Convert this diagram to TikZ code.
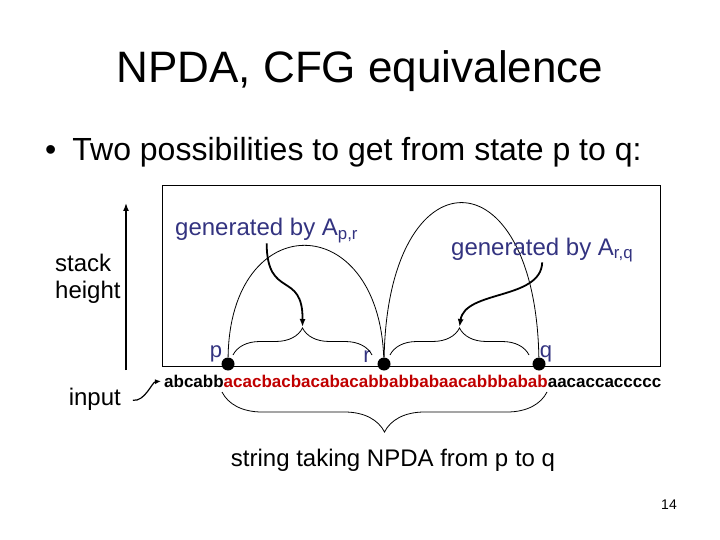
\documentclass[tikz,border=0pt]{standalone}
\usepackage{fontspec}
\setmainfont{Liberation Sans}
\usetikzlibrary{decorations.pathreplacing,arrows.meta}
\definecolor{stateblue}{RGB}{51,51,128}
\definecolor{pathred}{RGB}{192,0,0}
\newcommand{\ptsize}[1]{\fontsize{#1}{#1}\selectfont}
\begin{document}
\begin{tikzpicture}[x=1pt, y=-1pt, every node/.style={font=\ptsize{24}, inner sep=0pt},
  statedot/.style={circle, fill=black, inner sep=0pt, minimum size=13pt},
  statelbl/.style={text=stateblue, font=\ptsize{22}, anchor=base},
  loopline/.style={line width=0.8pt},
  brc/.style={decorate, decoration={brace, amplitude=#1}, line width=0.8pt},
  genarrow/.style={line width=1.8pt, -{Latex[length=8pt,width=6pt]}}]
\useasboundingbox (0,0) rectangle (720,540);
\node[font=\ptsize{44}, anchor=base] (title) at (360,83) {NPDA, CFG equivalence};
\node[font=\ptsize{32}, anchor=base west] (point) at (45,161) {\textbullet\hspace{16pt}Two possibilities to get from state p to q:};
\draw[line width=1pt] (162,186) rectangle (660,366);
\node[font=\fontsize{24}{27}\selectfont, align=left, anchor=west] (stack) at (55,279) {stack\\height};
\node[anchor=base east] (input) at (121,405) {input};
\coordinate (axisbot) at (126,370);
\coordinate (axistop) at (126,203);
\draw[line width=1.5pt, -{Latex[length=8pt,width=6pt]}] (axisbot) -- (axistop);
\node[statedot] (p) at (228,364) {};
\node[statedot] (r) at (384,364) {};
\node[statedot] (q) at (539,364) {};
\node[statelbl] (plbl) at (216,357) {p};
\node[statelbl] (rlbl) at (367,362) {r};
\node[statelbl] (qlbl) at (546,357) {q};
\draw[loopline] (p) .. controls (230,208) and (378,208) .. (r);
\draw[loopline] (r) .. controls (388,151) and (535,151) .. (q);
\draw[brc=27pt] (233,355) -- (372,355);
\draw[brc=27pt] (390,355) -- (529,355);
\coordinate (tippr) at (302.5,327);
\coordinate (tiprq) at (459.5,327);
\node[text=stateblue, anchor=base west] (genpr) at (175,236) {generated by A\textsubscript{p,r}};
\node[text=stateblue, anchor=base west] (genrq) at (451,255) {generated by A\textsubscript{r,q}};
\draw[genarrow] (genpr.south) .. controls (267,300) and (303,270) .. (tippr);
\draw[genarrow] (genrq.south) .. controls (541,300) and (465,290) .. (tiprq);
\node[font=\fontsize{17}{20}\selectfont\bfseries, anchor=base west] (word) at (164,387)
  {abcabb\textcolor{pathred}{acacbacbacabacabbabbabaacabbbabab}aacaccaccccc};
\draw[line width=1.2pt, -{Latex[length=6pt,width=5pt]}, shorten <=12pt, shorten >=3pt]
  (input.east) .. controls +(24,3) and +(-12,1) .. (word.west);
\draw[brc=40pt] (547,392) -- (222,392);
\node[anchor=base] (caption) at (393,466) {string taking NPDA from p to q};
\node[font=\ptsize{14}, anchor=base] (page) at (669,509) {14};
\end{tikzpicture}
\end{document}
